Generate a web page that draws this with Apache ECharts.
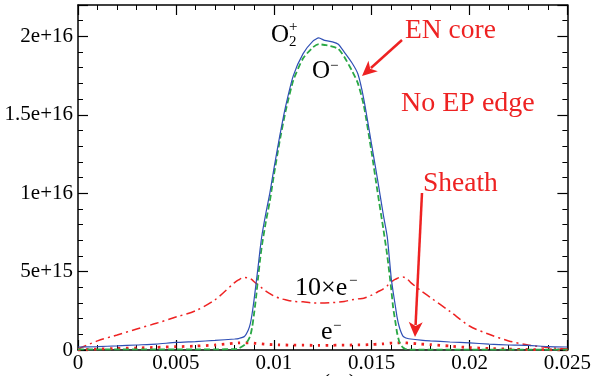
<!DOCTYPE html>
<html><head><meta charset="utf-8">
<script src="https://cdn.jsdelivr.net/npm/echarts@6/dist/echarts.min.js"></script>
<style>html,body{margin:0;padding:0;background:#fff}#c{width:594px;height:376px}</style>
</head><body><div id="c"></div>
<script>
// positions (m)
const xPos = [0, 0.001, 0.002, 0.003, 0.004, 0.005, 0.006, 0.007, 0.008, 0.0082,
  0.0085, 0.0087, 0.0088, 0.0089, 0.009, 0.0091, 0.0092, 0.0093, 0.0094, 0.0096,
  0.0098, 0.01, 0.0103, 0.0106, 0.011, 0.0115, 0.012, 0.0123, 0.0126, 0.013,
  0.0133, 0.0136, 0.014, 0.0143, 0.0146, 0.015, 0.0153, 0.0156, 0.0158, 0.016,
  0.0161, 0.0162, 0.0163, 0.0164, 0.0165, 0.0166, 0.0167, 0.0168, 0.017, 0.0175,
  0.018, 0.019, 0.02, 0.021, 0.022, 0.023, 0.024, 0.025];
// densities in units of 1e16
const o2plus = [0.019, 0.022, 0.026, 0.032, 0.038, 0.048, 0.054, 0.061, 0.070, 0.073,
  0.086, 0.128, 0.166, 0.236, 0.326, 0.428, 0.53, 0.64, 0.735, 0.875,
  1.00, 1.15, 1.36, 1.55, 1.75, 1.89, 1.97, 1.99, 1.974, 1.965,
  1.95, 1.90, 1.83, 1.76, 1.60, 1.31, 1.09, 0.86, 0.72, 0.46,
  0.37, 0.29, 0.21, 0.153, 0.115, 0.089, 0.08, 0.075, 0.070, 0.063,
  0.058, 0.051, 0.045, 0.038, 0.032, 0.029, 0.022, 0.019];
const oMinus = [0.004, 0.004, 0.004, 0.004, 0.004, 0.004, 0.004, 0.004, 0.006, 0.01,
  0.032, 0.064, 0.09, 0.147, 0.236, 0.34, 0.46, 0.575, 0.67, 0.82,
  0.95, 1.11, 1.33, 1.52, 1.72, 1.86, 1.93, 1.95, 1.945, 1.935,
  1.92, 1.87, 1.78, 1.70, 1.56, 1.26, 1.01, 0.77, 0.60, 0.39,
  0.27, 0.19, 0.11, 0.058, 0.032, 0.016, 0.008, 0.005, 0.003, 0.003,
  0.003, 0.003, 0.003, 0.003, 0.003, 0.003, 0.003, 0.003];
const tenElectron = [0.006, 0.058, 0.096, 0.134, 0.17, 0.21, 0.25, 0.32, 0.43, 0.447,
  0.463, 0.46, 0.455, 0.447, 0.435, 0.425, 0.415, 0.405, 0.395, 0.375,
  0.36, 0.345, 0.33, 0.32, 0.31, 0.307, 0.30, 0.30, 0.30, 0.302,
  0.305, 0.31, 0.32, 0.326, 0.33, 0.35, 0.37, 0.39, 0.41, 0.435,
  0.443, 0.45, 0.456, 0.462, 0.465, 0.466, 0.462, 0.455, 0.43, 0.38,
  0.335, 0.246, 0.153, 0.10, 0.058, 0.032, 0.016, 0.006];
const electron = [0.0006, 0.006, 0.0096, 0.013, 0.017, 0.021, 0.025, 0.032, 0.043, 0.045,
  0.046, 0.046, 0.045, 0.044, 0.043, 0.042, 0.041, 0.040, 0.039, 0.037,
  0.035, 0.034, 0.033, 0.032, 0.031, 0.031, 0.030, 0.030, 0.030, 0.030,
  0.031, 0.031, 0.032, 0.033, 0.033, 0.035, 0.037, 0.039, 0.041, 0.044,
  0.044, 0.045, 0.045, 0.046, 0.047, 0.047, 0.046, 0.045, 0.043, 0.038,
  0.034, 0.025, 0.015, 0.010, 0.006, 0.003, 0.0016, 0.0006];
const xTickLabels = ['0', '0.005', '0.01', '0.015', '0.02', '0.025'];
const yTickLabels = ['0', '5e+15', '1e+16', '1.5e+16', '2e+16'];

const FONT = 'Liberation Serif';
const RED = '#ee2222';
const pair = arr => xPos.map((x, i) => [x, arr[i]]);

function xAxisDef(pos, showLabel) {
  return {
    type: 'value', position: pos, min: 0, max: 0.025, interval: 0.005,
    axisLine: {show: true, onZero: false, lineStyle: {color: '#000', width: 1.5}},
    axisTick: {show: true, inside: true, length: 10, lineStyle: {color: '#000', width: 1.2}},
    minorTick: {show: true, splitNumber: 5, length: 5, lineStyle: {color: '#000', width: 1}},
    splitLine: {show: false}, minorSplitLine: {show: false},
    axisLabel: {show: showLabel, margin: 3, color: '#000', fontFamily: FONT, fontSize: 21,
      formatter: v => xTickLabels[Math.round(v / 0.005)]}
  };
}
function yAxisDef(pos, major, showLabel) {
  return {
    type: 'value', position: pos, min: 0, max: 2.2, interval: major ? 0.5 : 0.1,
    axisLine: {show: major, onZero: false, lineStyle: {color: '#000', width: 1.5}},
    axisTick: {show: true, inside: true, length: major ? 10 : 5, lineStyle: {color: '#000', width: major ? 1.2 : 1}},
    splitLine: {show: false},
    axisLabel: {show: showLabel, margin: 5, color: '#000', fontFamily: FONT, fontSize: 21,
      formatter: v => {
        const k = Math.round(v / 0.5);
        return Math.abs(v - k * 0.5) < 1e-9 && yTickLabels[k] !== undefined ? yTickLabels[k] : '';
      }}
  };
}

const txt = (x, y, s, fs, color) => ({type: 'text', x, y, z: 100,
  style: {text: s, fontFamily: FONT, fontSize: fs, fill: color, verticalAlign: 'middle', align: 'left'}});

function arrow(x1, y1, x2, y2) {
  const dx = x2 - x1, dy = y2 - y1, L = Math.hypot(dx, dy);
  const ux = dx / L, uy = dy / L, hl = 15, hw = 7;
  const bx = x2 - ux * hl, by = y2 - uy * hl;
  const nx = -uy, ny = ux;
  return [
    {type: 'line', z: 100, shape: {x1, y1, x2: bx + ux * 3, y2: by + uy * 3}, style: {stroke: RED, lineWidth: 2.5}},
    {type: 'polygon', z: 100, shape: {points: [[x2, y2], [bx + nx * hw, by + ny * hw], [bx + ux * 4, by + uy * 4], [bx - nx * hw, by - ny * hw]]},
      style: {fill: RED}}
  ];
}

const chart = echarts.init(document.getElementById('c'), null, {renderer: 'canvas'});
chart.setOption({
  backgroundColor: '#fff',
  animation: false,
  grid: {left: 78, right: 24, top: 5, bottom: 26},
  xAxis: [xAxisDef('bottom', true), xAxisDef('top', false)],
  yAxis: [yAxisDef('left', true, true), yAxisDef('left', false, false),
          yAxisDef('right', true, false), yAxisDef('right', false, false)],
  series: [
    {type: 'line', name: 'e-', data: pair(electron), showSymbol: false, smooth: 0.2,
      lineStyle: {color: RED, width: 2.8, type: [2.5, 5.5]}},
    {type: 'line', name: '10xe-', data: pair(tenElectron), showSymbol: false, smooth: 0.3,
      lineStyle: {color: RED, width: 1.5, type: [9, 4, 2, 4]}},
    {type: 'line', name: 'O-', data: pair(oMinus), showSymbol: false, smooth: 0.2,
      lineStyle: {color: '#2aa845', width: 1.8, type: [6, 3]}},
    {type: 'line', name: 'O2+', data: pair(o2plus), showSymbol: false, smooth: 0.2,
      lineStyle: {color: '#2f4fb5', width: 1.2}}
  ],
  graphic: [
    txt(271, 35, 'O', 25, '#000'),
    txt(289, 42, '2', 15, '#000'),
    txt(289, 27.5, '+', 15, '#000'),
    txt(312, 71.5, 'O', 25, '#000'),
    txt(330, 66, '\u2212', 15, '#000'),
    txt(295, 288, '10\u00d7e', 26, '#000'),
    txt(349, 281, '\u2212', 15, '#000'),
    txt(321, 332, 'e', 26, '#000'),
    txt(333, 326, '\u2212', 15, '#000'),
    txt(405, 31, 'EN core', 27.5, RED),
    txt(401, 104, 'No EP edge', 28, RED),
    txt(423, 184, 'Sheath', 27.5, RED),
    {type: 'text', x: 304, y: 372, z: 100, style: {text: 'x (m)', fontFamily: FONT, fontSize: 24, fill: '#000', verticalAlign: 'top'}},
    ...arrow(402, 40, 362, 76),
    ...arrow(422, 193, 415, 337)
  ]
});
</script>
</body></html>
